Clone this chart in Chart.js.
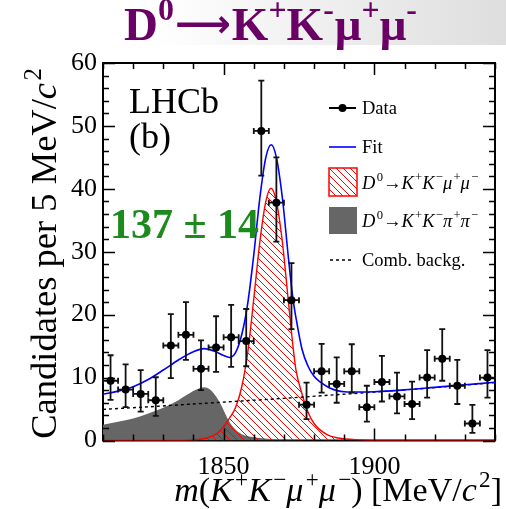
<!DOCTYPE html>
<html>
<head>
<meta charset="utf-8">
<script src="https://cdn.jsdelivr.net/npm/chart.js@4.4.1/dist/chart.umd.min.js"></script>
<style>
  html, body { margin: 0; padding: 0; background: #ffffff; overflow: hidden; }
  canvas { display: block; }
</style>
</head>
<body>
<canvas id="massPlot" width="506" height="509"></canvas>
<script>
// ---- Binned data: m(K+K-mu+mu-) bin centres [MeV/c^2], candidates per 5 MeV/c^2 ----
const binCenters = [1812.5, 1817.5, 1822.5, 1827.5, 1832.5, 1837.5, 1842.5, 1847.5, 1852.5, 1857.5,
                    1862.5, 1867.5, 1872.5, 1877.5, 1882.5, 1887.5, 1892.5, 1897.5, 1902.5, 1907.5,
                    1912.5, 1917.5, 1922.5, 1927.5, 1932.5, 1937.5];
const counts    = [9.5, 8.1, 7.4, 6.4, 15.1, 16.8, 11.4, 14.8, 16.4, 15.8,
                   49.2, 37.8, 22.3, 5.7, 11.0, 9.0, 11.0, 5.3, 9.3, 7.0,
                   5.8, 10.0, 13.0, 8.7, 2.7, 10.0];
const errUp     = [4.05, 4.0, 3.8, 3.65, 5.0, 5.2, 4.5, 4.95, 5.15, 5.1,
                   8.0, 7.2, 5.9, 3.5, 4.35, 4.2, 4.3, 3.4, 4.15, 3.8,
                   3.55, 4.35, 4.7, 4.1, 2.95, 4.35];
const errDown   = [3.05, 2.8, 2.8, 2.5, 5.2, 4.0, 3.4, 3.9, 4.7, 4.0,
                   7.1, 6.2, 4.6, 2.3, 3.4, 3.0, 3.4, 2.3, 3.1, 2.7,
                   2.4, 3.2, 3.5, 2.9, 1.5, 3.2];
const binHalfWidth = 2.5;

// ---- Fit projections ----
const fitMass   = [1810, 1815, 1820, 1825, 1830, 1835, 1840, 1843.5, 1847, 1850, 1852, 1854, 1856, 1858,
                   1860, 1862, 1864, 1865.8, 1867.5, 1869.5, 1871.5, 1873, 1874, 1876, 1878, 1880,
                   1882, 1885, 1890, 1895, 1900, 1910, 1920, 1930, 1940];
const fitValues = [7.35, 7.85, 8.55, 9.7, 11.2, 12.8, 14.1, 14.6, 14.2, 13.5, 13.2, 14.0, 16.8, 21.8,
                   29.5, 38.5, 45.0, 47.0, 45.0, 38.5, 29.0, 22.5, 19.5, 14.5, 11.8, 10.2,
                   9.3, 8.4, 7.75, 7.7, 7.75, 8.05, 8.45, 8.85, 9.25];

const signalMass   = [1810, 1830, 1840, 1845, 1848, 1850, 1852, 1854, 1856, 1858, 1860, 1862, 1864, 1865.7,
                      1867.5, 1869.5, 1871.5, 1873, 1874, 1876, 1878, 1880, 1884, 1888, 1895, 1905, 1940];
const signalValues = [0, 0, 0.1, 0.5, 1.2, 2.2, 3.6, 5.3, 8.5, 14.0, 22.5, 31.5, 38.0, 40.1,
                      38.0, 31.5, 22.0, 15.0, 11.2, 7.4, 4.5, 2.7, 1.0, 0.4, 0.1, 0, 0];

const misidMass   = [1810, 1815, 1820, 1825, 1830, 1835, 1838, 1841, 1843.5, 1845.5, 1847, 1849, 1850.5,
                     1852, 1854, 1856, 1860, 1865, 1870, 1880, 1940];
const misidValues = [2.5, 3.0, 3.5, 4.3, 5.2, 6.4, 7.3, 8.1, 8.45, 8.1, 7.3, 5.8, 4.3,
                     2.9, 1.7, 1.0, 0.5, 0.25, 0.1, 0, 0];

const combMass   = [1810, 1825, 1840, 1855, 1870, 1885, 1900, 1910, 1920, 1930, 1940];
const combValues = [4.95, 5.35, 5.8, 6.25, 6.7, 7.2, 7.7, 8.05, 8.4, 8.8, 9.2];

// ---- Axis tick labels ----
const xTickLabels = [1850, 1900];
const yTickLabels = [0, 10, 20, 30, 40, 50, 60];

const SERIF = '"Liberation Serif", "Times New Roman", "DejaVu Serif", serif';
const toPoints = (xs, ys) => xs.map((x, i) => ({ x: x, y: ys[i] }));

const canvas = document.getElementById('massPlot');
const ctx2d = canvas.getContext('2d');

// Red "\\\" hatching for the signal component
function makeHatch(color) {
  const s = 7;
  const tile = document.createElement('canvas');
  tile.width = s; tile.height = s;
  const g = tile.getContext('2d');
  g.strokeStyle = color;
  g.lineWidth = 1;
  g.beginPath();
  for (let k = -1; k <= 1; k++) { g.moveTo(k * s, 0); g.lineTo(k * s + s, s); }
  g.stroke();
  return ctx2d.createPattern(tile, 'repeat');
}
const signalHatch = makeHatch('#ff0000');

// Rich text: runs of plain / italic / superscript text
function drawRich(ctx, parts, x, y, o) {
  const size = o.size, weight = o.weight || 'normal';
  const fontOf = p => (p.i ? 'italic ' : '') + weight + ' ' +
                      (p.size || (p.sup ? size * 0.68 : size)) + 'px ' + (p.family || SERIF);
  let w = 0;
  const offs = [];
  parts.forEach((p, k) => {
    ctx.font = fontOf(p);
    const prevItalic = k > 0 && parts[k - 1].i;
    if (p.sup && prevItalic) w += size * 0.07;
    offs.push(w);
    w += ctx.measureText(p.t).width + (p.after || 0);
  });
  const sx = o.scaleX || 1;
  ctx.save();
  ctx.translate(x, y);
  if (o.rotate) ctx.rotate(o.rotate);
  ctx.scale(sx, 1);
  const x0 = o.align === 'right' ? -w : (o.align === 'center' ? -w / 2 : 0);
  ctx.fillStyle = o.color || '#000';
  ctx.textBaseline = 'alphabetic';
  ctx.textAlign = 'left';
  parts.forEach((p, k) => {
    ctx.font = fontOf(p);
    ctx.fillText(p.t, x0 + offs[k], p.sup ? -size * 0.42 : (p.dy || 0));
  });
  ctx.restore();
}

// Frame of the plot (drawn beneath the curves so the zero-level red line sits on it)
const framePlugin = {
  id: 'frame',
  beforeDraw(chart) {
    const ctx = chart.ctx;
    ctx.save();
    const grad = ctx.createLinearGradient(0, 0, chart.width, 0);
    grad.addColorStop(0, '#ffffff');
    grad.addColorStop(0.3, '#ffffff');
    grad.addColorStop(1, '#dedede');
    ctx.fillStyle = grad;
    ctx.fillRect(0, 0, chart.width, 45);
    ctx.restore();
  },
  beforeDatasetsDraw(chart) {
    const { ctx, chartArea: a } = chart;
    ctx.save();
    ctx.strokeStyle = '#000';
    ctx.lineWidth = 2;
    ctx.strokeRect(a.left, a.top, a.right - a.left, a.bottom - a.top);
    ctx.restore();
  },
  afterDatasetsDraw(chart) {
    const { ctx, chartArea: a, scales: { x, y } } = chart;
    ctx.save();
    ctx.strokeStyle = '#000';
    ctx.lineWidth = 1.5;
    ctx.beginPath();
    for (let v = x.min; v <= x.max + 1e-6; v += 10) {
      const px = Math.round(x.getPixelForValue(v)) + 0.5;
      const len = (v % 50 === 0) ? 12 : 6;
      ctx.moveTo(px, a.bottom); ctx.lineTo(px, a.bottom - len);
      ctx.moveTo(px, a.top); ctx.lineTo(px, a.top + len);
    }
    for (let v = y.min; v <= y.max + 1e-6; v += 2) {
      const py = Math.round(y.getPixelForValue(v)) + 0.5;
      const len = (v % 10 === 0) ? 12 : 6;
      ctx.moveTo(a.left, py); ctx.lineTo(a.left + len, py);
      ctx.moveTo(a.right, py); ctx.lineTo(a.right - len, py);
    }
    ctx.stroke();
    ctx.restore();
  }
};

// Error bars for the data points (bin width horizontally, uncertainties vertically)
const errorBarPlugin = {
  id: 'errorBars',
  beforeDatasetDraw(chart, args) {
    if (args.index !== 0) return;
    const { ctx, scales: { x, y } } = chart;
    ctx.save();
    ctx.strokeStyle = '#111';
    ctx.lineWidth = 1.8;
    ctx.beginPath();
    binCenters.forEach((m, i) => {
      const px = x.getPixelForValue(m), py = y.getPixelForValue(counts[i]);
      const yt = y.getPixelForValue(counts[i] + errUp[i]);
      const yb = y.getPixelForValue(counts[i] - errDown[i]);
      const xl = x.getPixelForValue(m - binHalfWidth), xr = x.getPixelForValue(m + binHalfWidth);
      ctx.moveTo(px, yt); ctx.lineTo(px, yb);
      ctx.moveTo(px - 3, yt); ctx.lineTo(px + 3, yt);
      ctx.moveTo(px - 3, yb); ctx.lineTo(px + 3, yb);
      ctx.moveTo(xl, py); ctx.lineTo(xr, py);
      ctx.moveTo(xl, py - 3); ctx.lineTo(xl, py + 3);
      ctx.moveTo(xr, py - 3); ctx.lineTo(xr, py + 3);
    });
    ctx.stroke();
    ctx.restore();
  }
};

const ARROW_FONT = '"DejaVu Sans", "Liberation Serif", sans-serif';

// Titles, annotations and legend
const decorPlugin = {
  id: 'decor',
  afterDraw(chart) {
    const ctx = chart.ctx;
    // Heading
    drawRich(ctx, [{ t: 'D' }, { t: '0', sup: 1, after: 1 },
                   { t: '\u27f6', family: ARROW_FONT, size: 39, dy: -3, after: 1 },
                   { t: 'K' }, { t: '+', sup: 1 },
                   { t: 'K' }, { t: '-', sup: 1, after: 1 }, { t: '\u03bc' }, { t: '+', sup: 1 },
                   { t: '\u03bc' }, { t: '-', sup: 1 }],
             124, 40, { size: 47, weight: 'bold', color: '#6a0066' });

    // Axis titles
    drawRich(ctx, [{ t: 'Candidates per 5 MeV/' }, { t: 'c', i: 1 }, { t: '2', sup: 1 }],
             56, 68, { size: 36.5, align: 'right', rotate: -Math.PI / 2 });
    drawRich(ctx, [{ t: 'm', i: 1 }, { t: '(' }, { t: 'K', i: 1 }, { t: '+', sup: 1 }, { t: 'K', i: 1 },
                   { t: '\u2212', sup: 1 }, { t: '\u03bc', i: 1 }, { t: '+', sup: 1 }, { t: '\u03bc', i: 1 },
                   { t: '\u2212', sup: 1 }, { t: ') [MeV/' }, { t: 'c', i: 1 }, { t: '2', sup: 1 }, { t: ']' }],
             502, 501, { size: 34, align: 'right' });

    // Experiment label and signal yield
    drawRich(ctx, [{ t: 'LHCb' }], 129, 113, { size: 36 });
    drawRich(ctx, [{ t: '(b)' }], 129, 148, { size: 36 });
    drawRich(ctx, [{ t: '137 \u00b1 14' }], 110, 238, { size: 42, weight: 'bold', color: '#1d8a1d' });

    // Legend
    const lx0 = 329, lx1 = 356, tx = 362, fs = 18.5;
    ctx.save();
    ctx.strokeStyle = '#000'; ctx.lineWidth = 2;
    ctx.beginPath(); ctx.moveTo(lx0, 108); ctx.lineTo(lx1, 108); ctx.stroke();
    ctx.fillStyle = '#000';
    ctx.beginPath(); ctx.arc((lx0 + lx1) / 2, 108, 4, 0, Math.PI * 2); ctx.fill();
    ctx.strokeStyle = '#0000ff'; ctx.lineWidth = 1.6;
    ctx.beginPath(); ctx.moveTo(lx0, 147); ctx.lineTo(lx1, 147); ctx.stroke();
    ctx.fillStyle = signalHatch; ctx.fillRect(lx0, 168, 28, 28);
    ctx.strokeStyle = '#ff0000'; ctx.lineWidth = 1.5; ctx.strokeRect(lx0, 168, 28, 28);
    ctx.fillStyle = '#666666'; ctx.fillRect(lx0, 207, 28, 27);
    ctx.strokeStyle = '#000'; ctx.lineWidth = 1.4; ctx.setLineDash([3, 3]);
    ctx.beginPath(); ctx.moveTo(lx0 + 1, 260); ctx.lineTo(lx1 - 2, 260); ctx.stroke();
    ctx.restore();

    drawRich(ctx, [{ t: 'Data' }], tx, 114, { size: fs });
    drawRich(ctx, [{ t: 'Fit' }], tx, 153, { size: fs });
    drawRich(ctx, [{ t: 'D', i: 1 }, { t: '0', sup: 1 }, { t: '\u2192' }, { t: 'K', i: 1 }, { t: '+', sup: 1 },
                   { t: 'K', i: 1 }, { t: '\u2212', sup: 1 }, { t: '\u03bc', i: 1 }, { t: '+', sup: 1 },
                   { t: '\u03bc', i: 1 }, { t: '\u2212', sup: 1 }], tx, 189, { size: fs });
    drawRich(ctx, [{ t: 'D', i: 1 }, { t: '0', sup: 1 }, { t: '\u2192' }, { t: 'K', i: 1 }, { t: '+', sup: 1 },
                   { t: 'K', i: 1 }, { t: '\u2212', sup: 1 }, { t: '\u03c0', i: 1 }, { t: '+', sup: 1 },
                   { t: '\u03c0', i: 1 }, { t: '\u2212', sup: 1 }], tx, 227, { size: fs });
    drawRich(ctx, [{ t: 'Comb. backg.' }], tx, 266, { size: fs });
  }
};

new Chart(canvas, {
  type: 'line',
  data: {
    datasets: [
      { label: 'Data', type: 'scatter', data: toPoints(binCenters, counts),
        pointRadius: 4, pointBackgroundColor: '#000', pointBorderWidth: 0, showLine: false, order: 0 },
      { label: 'Fit', data: toPoints(fitMass, fitValues), borderColor: '#0000ff', borderWidth: 1.6,
        pointRadius: 0, cubicInterpolationMode: 'monotone', fill: false, order: 1 },
      { label: 'Comb. backg.', data: toPoints(combMass, combValues), borderColor: '#000', borderWidth: 1.4,
        borderDash: [3, 3], pointRadius: 0, cubicInterpolationMode: 'monotone', fill: false, order: 2 },
      { label: 'D0 -> K+K-mu+mu-', data: toPoints(signalMass, signalValues), borderColor: '#ff0000',
        borderWidth: 1.4, backgroundColor: signalHatch, fill: 'origin', pointRadius: 0,
        cubicInterpolationMode: 'monotone', order: 3 },
      { label: 'D0 -> K+K-pi+pi-', data: toPoints(misidMass, misidValues), borderColor: '#666666',
        borderWidth: 0, backgroundColor: '#666666', fill: 'origin', pointRadius: 0,
        cubicInterpolationMode: 'monotone', order: 4 }
    ]
  },
  options: {
    responsive: false,
    animation: false,
    devicePixelRatio: 1,
    layout: { padding: { top: 63, right: 3, left: 0, bottom: 0 } },
    plugins: { legend: { display: false }, tooltip: { enabled: false }, title: { display: false } },
    scales: {
      x: {
        type: 'linear', min: 1810, max: 1940,
        grid: { display: false, drawTicks: false }, border: { display: false },
        ticks: { stepSize: 10, autoSkip: false, maxRotation: 0, padding: 11, color: '#000',
                 font: { family: SERIF, size: 26 },
                 callback: v => xTickLabels.includes(v) ? String(v) : '' },
        afterFit: s => { s.height = 68.5; }
      },
      y: {
        min: 0, max: 60,
        grid: { display: false, drawTicks: false }, border: { display: false },
        ticks: { stepSize: 10, padding: 6, color: '#000', font: { family: SERIF, size: 26 },
                 callback: v => yTickLabels.includes(v) ? String(v) : '' },
        afterFit: s => { s.width = 103; }
      }
    }
  },
  plugins: [framePlugin, errorBarPlugin, decorPlugin]
});
</script>
</body>
</html>
